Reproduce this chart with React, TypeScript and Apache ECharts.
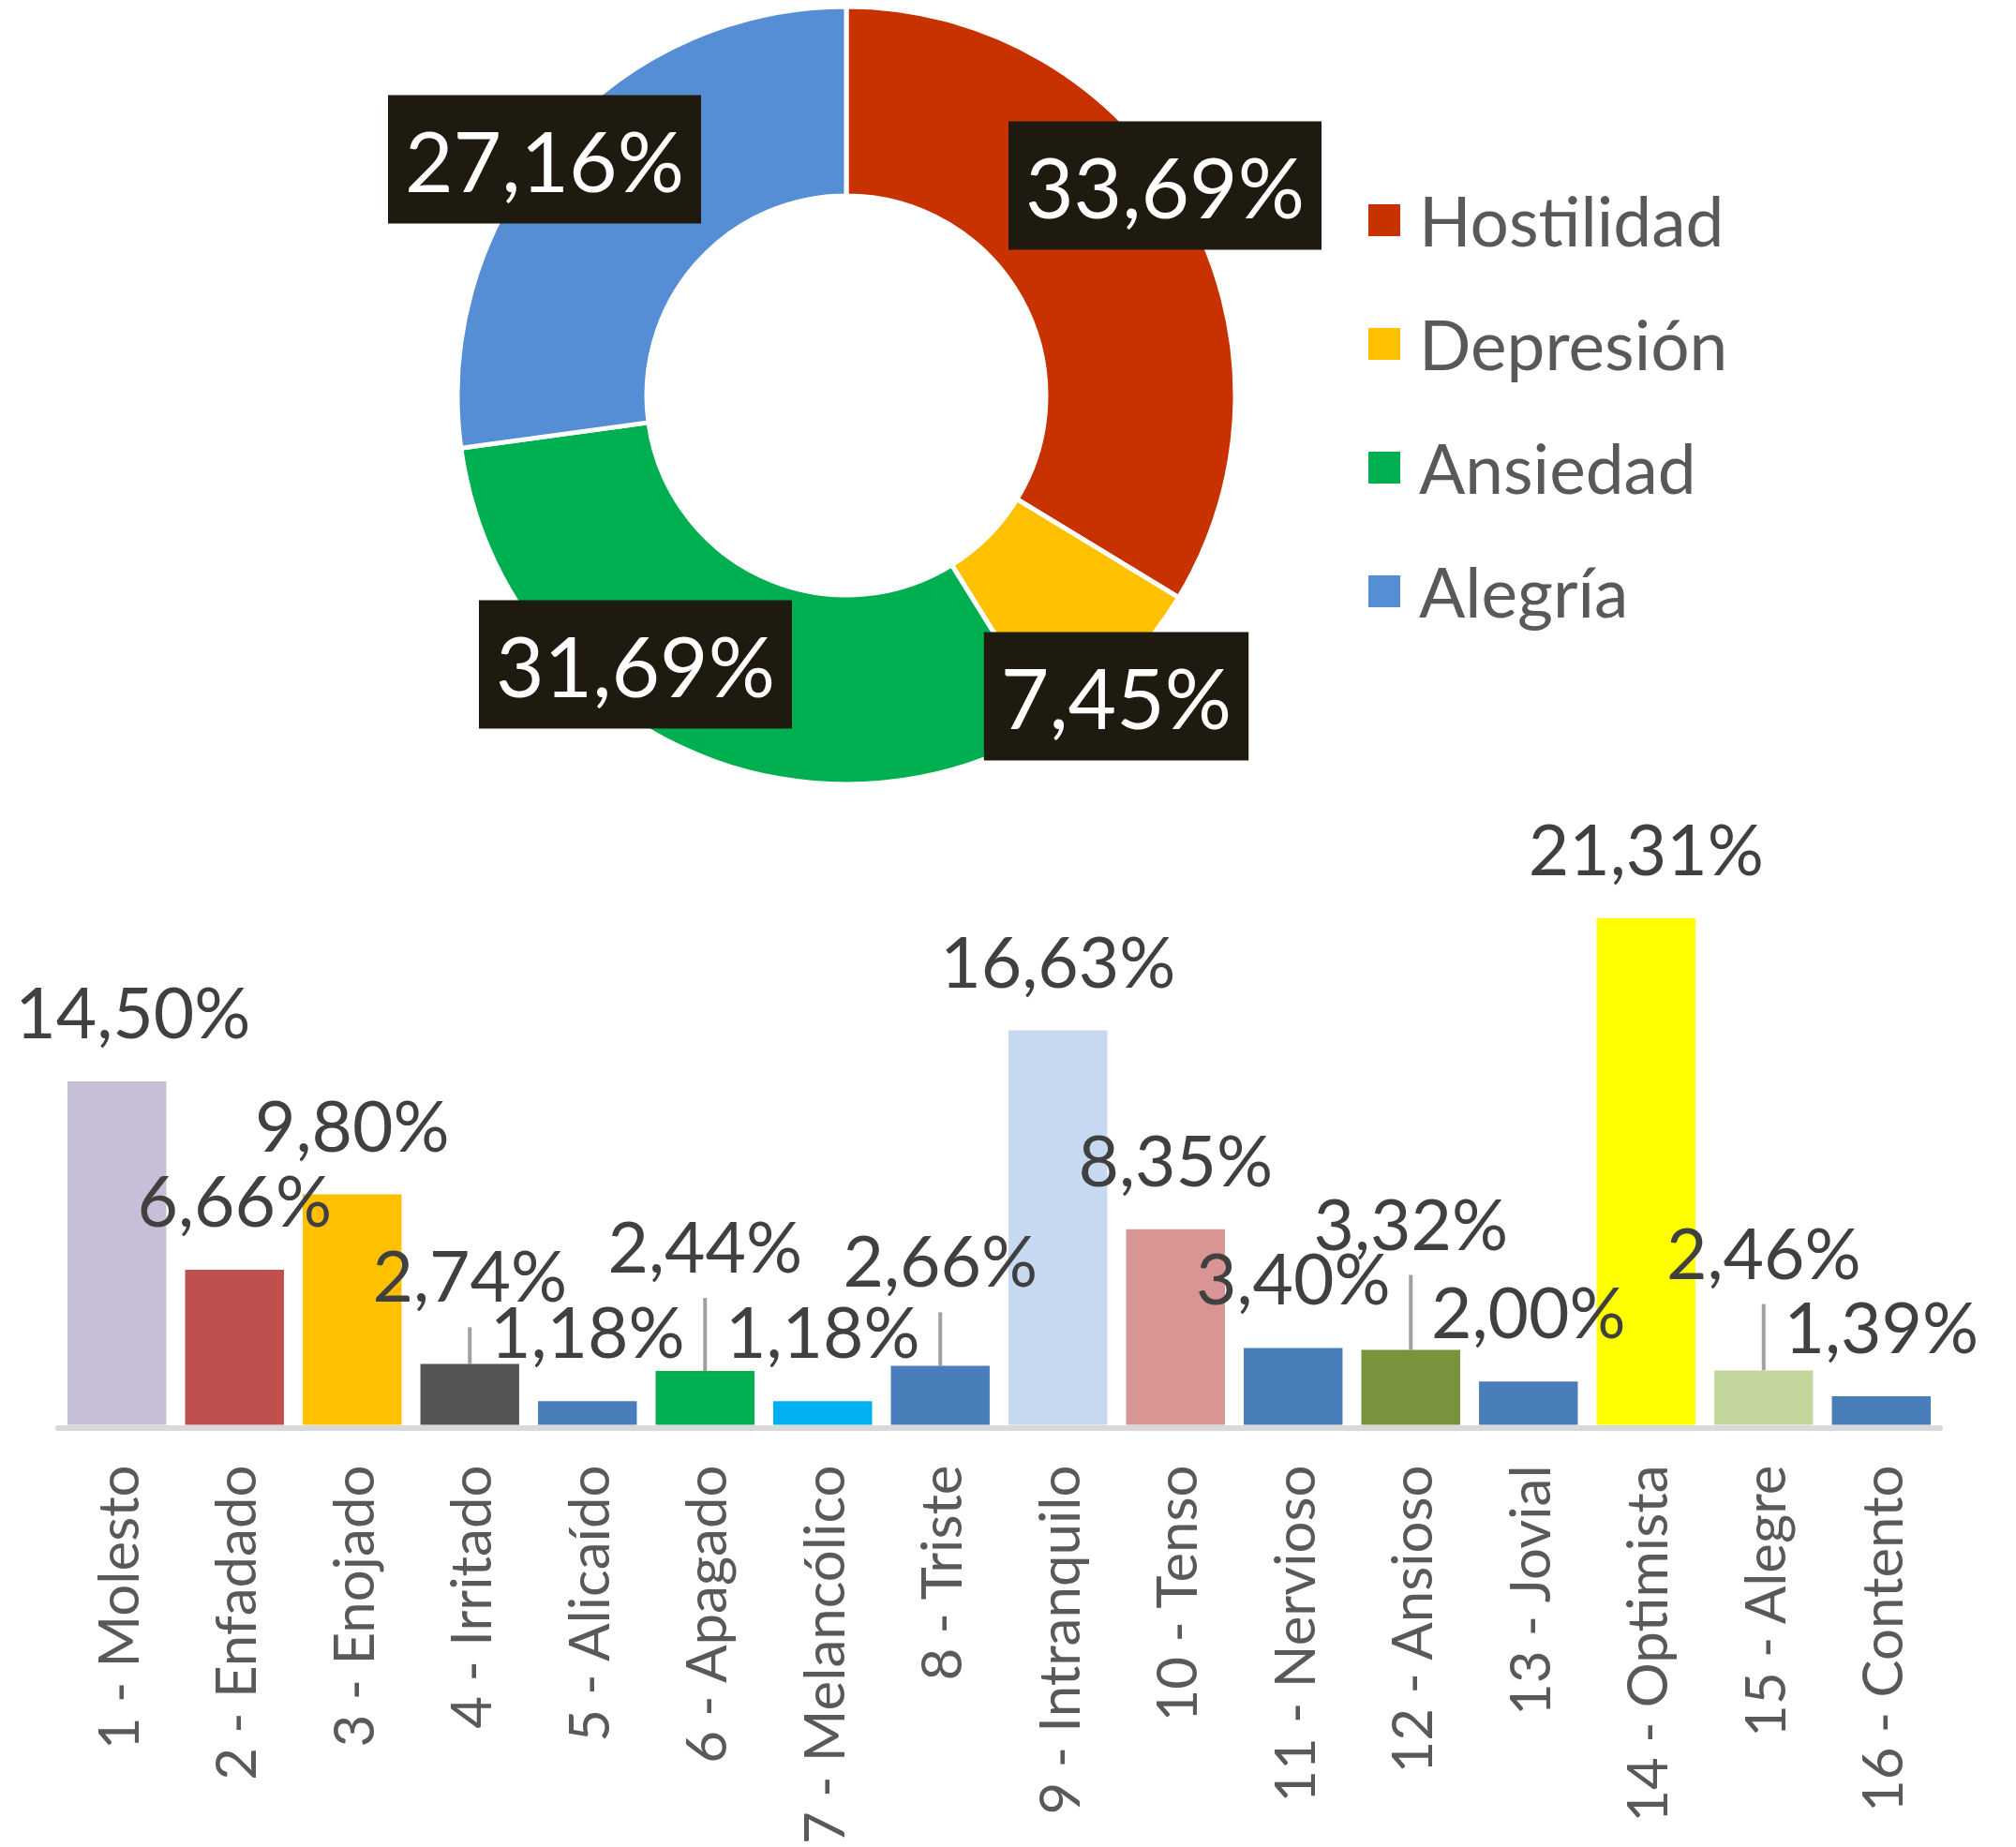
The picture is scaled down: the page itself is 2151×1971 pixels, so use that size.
import React, { useEffect, useRef } from "react";
import * as echarts from "echarts";

// ---- Data ----
const groupNames = ["Hostilidad", "Depresión", "Ansiedad", "Alegría"];
const groupValues = [33.69, 7.45, 31.69, 27.16];
const groupColors = ["#C83200", "#FFC000", "#00B050", "#558ED5"];

const emotionCategories = [
  "1 - Molesto",
  "2 - Enfadado",
  "3 - Enojado",
  "4 - Irritado",
  "5 - Alicaído",
  "6 - Apagado",
  "7 - Melancólico",
  "8 - Triste",
  "9 - Intranquilo",
  "10 - Tenso",
  "11 - Nervioso",
  "12 - Ansioso",
  "13 - Jovial",
  "14 - Optimista",
  "15 - Alegre",
  "16 - Contento",
];
const emotionValues = [
  14.5, 6.66, 9.8, 2.74, 1.18, 2.44, 1.18, 2.66, 16.63, 8.35, 3.4, 3.32, 2.0,
  21.31, 2.46, 1.39,
];
const emotionColors = [
  "#C7BED8",
  "#C0504D",
  "#FFC000",
  "#555555",
  "#4A7EBB",
  "#00B050",
  "#00B0F0",
  "#4A7EBB",
  "#C6D9F1",
  "#D99594",
  "#4A7EBB",
  "#77933C",
  "#4A7EBB",
  "#FFFF00",
  "#C3D69B",
  "#4A7EBB",
];

// ---- Layout tweaks (label placement, as moved in the original) ----
const labelLift = [0, 0, 0, 20, 0, 59, 0, 38, 0, 0, 0, 61, 0, 0, 52, 0];
const labelShiftX = [17, 0, 0, 0, 0, 0, 0, 0, 0, 0, 0, 0, 0, 0, 0, 0];
const pieCenter = [903, 422];
const pieLabelOffsets = [
  [340, -224],
  [288, 321],
  [-225, 287],
  [-322, -252],
];

const FONT = "Lato";
const fmt = (v: number) => v.toFixed(2).replace(".", ",") + "%";

export default function App() {
  const ref = useRef<HTMLDivElement>(null);

  useEffect(() => {
    if (!ref.current) return;
    const chart = echarts.init(ref.current, null, { renderer: "svg" });
    const option: any = {
      animation: false,
      backgroundColor: "#ffffff",
      legend: {
        orient: "vertical",
        left: 1453,
        top: 193,
        itemWidth: 36,
        itemHeight: 36,
        itemGap: 58,
        icon: "rect",
        data: groupNames,
        selectedMode: false,
        textStyle: {
          fontFamily: FONT,
          fontSize: 73,
          lineHeight: 74,
          color: "#595959",
          padding: [0, 0, 0, 14],
        },
      },
      grid: { left: 62, right: 81, top: 880, bottom: 450 },
      xAxis: {
        type: "category",
        data: emotionCategories,
        offset: 3,
        axisLine: { lineStyle: { color: "#D9D9D9", width: 6 } },
        axisTick: { show: false },
        axisLabel: {
          rotate: 90,
          interval: 0,
          margin: 40,
          fontFamily: FONT,
          fontSize: 60,
          color: "#595959",
        },
      },
      yAxis: {
        type: "value",
        min: 0.2,
        max: 25.2,
        show: false,
        splitLine: { show: false },
      },
      series: [
        {
          type: "pie",
          center: pieCenter,
          radius: [213, 415],
          startAngle: 90,
          clockwise: true,
          avoidLabelOverlap: false,
          silent: true,
          itemStyle: { borderColor: "#ffffff", borderWidth: 5 },
          data: groupNames.map((n, i) => ({
            name: n,
            value: groupValues[i],
            itemStyle: { color: groupColors[i] },
          })),
          label: {
            show: true,
            position: "inside",
            formatter: (p: any) => fmt(p.value),
            fontFamily: FONT,
            fontSize: 89,
            lineHeight: 110,
            color: "#ffffff",
            backgroundColor: "#1E1A0F",
            padding: [14, 18, 13, 18],
          },
          labelLine: { show: false },
          labelLayout: (params: any) => {
            const o = pieLabelOffsets[params.dataIndex];
            return {
              x: pieCenter[0] + o[0],
              y: pieCenter[1] + o[1],
              align: "center",
              verticalAlign: "middle",
            };
          },
        },
        {
          type: "bar",
          barCategoryGap: "16%",
          clip: true,
          silent: true,
          data: emotionValues.map((v, i) => ({
            value: v,
            itemStyle: { color: emotionColors[i] },
            label: {
              distance: 37.5 + labelLift[i],
              offset: [labelShiftX[i], 0],
            },
          })),
          label: {
            show: true,
            position: "top",
            fontFamily: FONT,
            fontSize: 75,
            lineHeight: 75,
            color: "#404040",
            formatter: (p: any) => fmt(p.value),
          },
        },
        {
          type: "custom",
          silent: true,
          data: emotionValues.map((v, i) => [i, v]),
          renderItem: (params: any, api: any) => {
            const i = params.dataIndex;
            const lift = labelLift[i];
            if (!lift) return null;
            const p = api.coord([api.value(0), api.value(1)]);
            return {
              type: "line",
              shape: { x1: p[0], y1: p[1], x2: p[0], y2: p[1] - (lift + 19) },
              style: { stroke: "#A0A0A0", lineWidth: 4 },
            };
          },
        },
      ],
    };
    chart.setOption(option);
    return () => chart.dispose();
  }, []);

  return (
    <div
      ref={ref}
      style={{
        position: "absolute",
        left: 0,
        top: 0,
        width: 2151,
        height: 1971,
        background: "#ffffff",
      }}
    />
  );
}
